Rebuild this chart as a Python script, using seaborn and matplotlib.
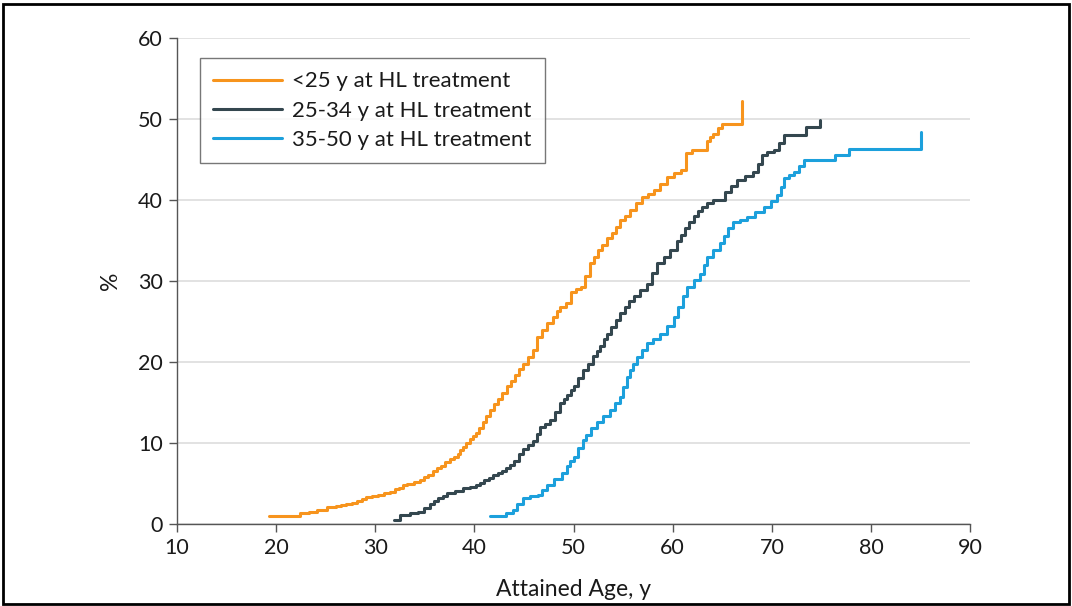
import pandas as pd
import numpy as np
import matplotlib.pyplot as plt
import matplotlib.patches as patches
import seaborn as sns

# Cumulative incidence by attained age
ages_lt25 = [19.3, 22.4, 23.3, 24.1, 25.1, 26.0, 26.6, 27.1, 27.7, 28.2, 28.7, 29.1,
             29.7, 30.3, 30.9, 31.5, 32.0, 32.4, 32.8, 33.2, 33.9, 34.5, 34.9, 35.3,
             35.8, 36.2, 36.6, 37.0, 37.5, 37.9, 38.3, 38.6, 38.9, 39.2, 39.6, 39.9,
             40.2, 40.5, 40.9, 41.2, 41.6, 42.0, 42.4, 42.8, 43.3, 43.7, 44.1, 44.5,
             44.9, 45.4, 45.95, 46.3, 46.8, 47.3, 47.9, 48.3, 48.65, 49.2, 49.7, 50.3,
             50.8, 51.2, 51.7, 52.1, 52.5, 52.9, 53.4, 53.9, 54.3, 54.7, 55.2, 55.7,
             56.3, 56.9, 57.5, 58.1, 58.7, 59.4, 60.1, 60.8, 61.3, 61.9, 63.45, 63.8,
             64.1, 64.6, 65.0, 67.0]
pct_lt25 = [1.0, 1.4, 1.5, 1.7, 2.1, 2.2, 2.3, 2.5, 2.6, 2.9, 3.1, 3.3,
            3.4, 3.6, 3.8, 4.0, 4.3, 4.5, 4.8, 5.0, 5.2, 5.4, 5.8, 6.1,
            6.5, 6.9, 7.2, 7.6, 8.0, 8.3, 8.7, 9.1, 9.5, 10.0, 10.5, 10.9,
            11.2, 11.9, 12.6, 13.3, 14.1, 14.8, 15.5, 16.2, 17.0, 17.7, 18.4, 19.1,
            19.8, 20.6, 21.5, 23.1, 23.9, 24.8, 25.6, 26.3, 26.8, 27.3, 28.7, 29.0,
            29.3, 30.6, 32.2, 33.0, 33.8, 34.5, 35.3, 36.0, 36.7, 37.5, 38.1, 38.8,
            39.6, 40.4, 40.8, 41.2, 42.0, 42.9, 43.3, 43.7, 45.8, 46.2, 47.3, 47.8,
            48.2, 48.9, 49.4, 52.3]

ages_25_34 = [31.9, 32.5, 33.5, 34.35, 34.9, 35.5, 35.9, 36.3, 36.8, 37.2, 38.0, 38.9,
              39.6, 40.2, 40.6, 41.0, 41.5, 41.9, 42.4, 42.8, 43.2, 43.6, 44.0, 44.5,
              44.9, 45.4, 45.95, 46.3, 46.6, 47.1, 47.6, 48.1, 48.65, 49.0, 49.3, 49.7,
              50.0, 50.5, 51.0, 51.5, 52.0, 52.4, 52.7, 53.1, 53.4, 53.8, 54.3, 54.7,
              55.2, 55.6, 56.05, 56.7, 57.4, 57.9, 58.4, 59.1, 59.75, 60.4, 60.8, 61.2,
              61.6, 62.1, 62.6, 63.0, 63.5, 64.1, 65.3, 65.9, 66.5, 67.3, 68.15, 68.6,
              69.0, 69.5, 70.2, 70.7, 71.2, 73.4, 74.9]
pct_25_34 = [0.5, 1.1, 1.3, 1.5, 2.0, 2.5, 2.9, 3.2, 3.5, 3.8, 4.1, 4.4,
             4.6, 4.8, 5.1, 5.4, 5.7, 6.0, 6.3, 6.6, 6.9, 7.3, 7.8, 8.6,
             9.3, 9.8, 10.2, 11.1, 12.0, 12.4, 12.8, 13.8, 14.9, 15.4, 15.9, 16.5,
             17.0, 18.0, 19.0, 19.8, 20.7, 21.4, 22.0, 22.8, 23.5, 24.3, 25.2, 26.0,
             26.8, 27.5, 28.1, 28.9, 29.7, 31.0, 32.2, 33.0, 33.8, 34.9, 35.7, 36.5,
             37.3, 38.1, 38.7, 39.2, 39.6, 40.0, 41.0, 41.8, 42.5, 43.0, 43.5, 44.5,
             45.6, 45.9, 46.2, 47.1, 48.0, 49.0, 49.9]

ages_35_50 = [41.6, 43.2, 43.9, 44.3, 44.9, 45.6, 46.4, 46.8, 47.3, 48.0, 48.8, 49.3,
              49.6, 50.0, 50.5, 51.0, 51.3, 51.8, 52.35, 53.0, 53.7, 54.2, 54.7, 55.0,
              55.4, 55.7, 56.0, 56.4, 56.9, 57.4, 58.0, 58.7, 59.4, 60.1, 60.5, 61.0,
              61.4, 62.1, 62.8, 63.2, 63.5, 64.1, 64.8, 65.2, 65.6, 66.1, 66.8, 67.5,
              68.3, 69.2, 69.9, 70.5, 70.9, 71.2, 71.7, 72.2, 72.7, 73.2, 76.4, 77.8,
              85.0]
pct_35_50 = [1.0, 1.4, 1.7, 2.5, 3.2, 3.4, 3.6, 4.2, 4.8, 5.5, 6.3, 7.2,
             7.8, 8.3, 9.4, 10.4, 11.0, 11.8, 12.6, 13.4, 14.1, 14.9, 15.7, 16.9,
             18.2, 19.0, 19.8, 20.6, 21.5, 22.3, 22.9, 23.5, 24.5, 25.6, 26.8, 28.1,
             29.3, 30.1, 30.9, 32.0, 33.0, 33.8, 34.7, 35.6, 36.5, 37.3, 37.6, 37.9,
             38.5, 39.2, 39.9, 40.6, 41.6, 42.7, 43.1, 43.5, 44.2, 44.9, 45.6, 46.3,
             48.4]

groups = ['<25 y at HL treatment', '25-34 y at HL treatment', '35-50 y at HL treatment']
colors = ['#F7941D', '#34474F', '#1CA0DC']

df = pd.concat([
    pd.DataFrame({'age': ages_lt25, 'pct': pct_lt25, 'group': groups[0]}),
    pd.DataFrame({'age': ages_25_34, 'pct': pct_25_34, 'group': groups[1]}),
    pd.DataFrame({'age': ages_35_50, 'pct': pct_35_50, 'group': groups[2]}),
], ignore_index=True)

sns.set_style('white')
plt.rcParams['font.family'] = ['Lato', 'DejaVu Sans']

fig = plt.figure(figsize=(10.72, 6.06), dpi=100)
ax = fig.add_axes([0.165, 0.1353, 0.74, 0.8017])

sns.lineplot(data=df, x='age', y='pct', hue='group', hue_order=groups,
             palette=colors, estimator=None, sort=False, drawstyle='steps-post',
             linewidth=2.2, ax=ax)

ax.set_xlim(10, 90)
ax.set_ylim(0, 60)
ax.set_xticks(range(10, 91, 10))
ax.set_yticks(range(0, 61, 10))
ax.yaxis.grid(True, color='#DDDDDD', linewidth=1.2)
ax.xaxis.grid(False)
ax.set_axisbelow(True)
for s in ['top', 'right']:
    ax.spines[s].set_visible(False)
for s in ['left', 'bottom']:
    ax.spines[s].set_color('#555555')
    ax.spines[s].set_linewidth(1.0)
ax.tick_params(axis='both', direction='out', length=6, width=1, color='#555555',
               labelsize=15.5, labelcolor='#1a1a1a', pad=4)
ax.tick_params(axis='both', which='both', bottom=True, left=True)
ax.set_xlabel('Attained Age, y', fontsize=16.5, color='#1a1a1a', labelpad=15)
ax.set_ylabel('%', fontsize=16.5, color='#1a1a1a', labelpad=12)

leg = ax.legend(loc='upper left', bbox_to_anchor=(0.029, 0.959), fontsize=16,
                frameon=True, fancybox=False, handlelength=3.1, handletextpad=0.45,
                borderpad=0.6, labelspacing=0.42, borderaxespad=0)
leg.get_frame().set_edgecolor('#555555')
leg.get_frame().set_linewidth(1.0)
for t in leg.get_texts():
    t.set_color('#1a1a1a')

fig.patches.append(patches.Rectangle((0.003, 0.004), 0.994, 0.99, transform=fig.transFigure,
                                     fill=False, edgecolor='black', linewidth=2))

fig.savefig('out.png', dpi=100)
